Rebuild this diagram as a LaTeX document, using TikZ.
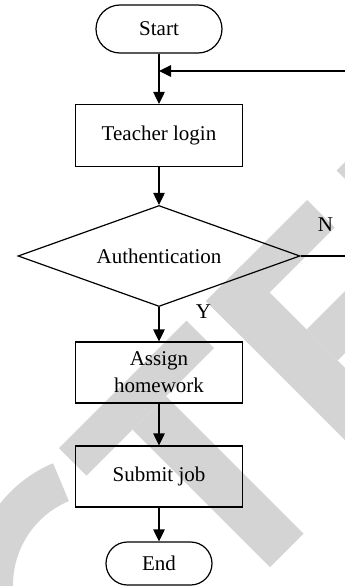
\documentclass[tikz,border=0pt]{standalone}
\usepackage{fontspec}
\setmainfont{Liberation Serif}
\usetikzlibrary{shapes.geometric,arrows.meta}
\definecolor{wm}{RGB}{212,212,212}
\begin{document}
\begin{tikzpicture}[x=1pt,y=-1pt,
  every node/.style={font=\fontsize{21}{27}\selectfont, inner sep=0pt},
  proc/.style={draw, line width=1.2pt, minimum width=167pt, minimum height=61pt, align=center},
  term/.style={draw, line width=1.2pt},
  dec/.style={draw, line width=1.2pt, shape=diamond, aspect=2.8, minimum width=282pt, minimum height=101pt},
  arr/.style={line width=1.2pt, -{Triangle[length=12pt,width=11.5pt]}},
  lbl/.style={}
]
\useasboundingbox (0,0) rectangle (345,586);
\begin{scope}
\clip (0,0) rectangle (345,586);
% watermark
\fill[wm] (206,301) -- (307,200) -- (334.5,227.5) -- (233.5,328.5) -- cycle;
\fill[wm] (206,301) -- (242,265) -- (538.5,561.5) -- (502.5,597.5) -- cycle;
\fill[wm] (306.5,329.5) -- (418,218) -- (449,249) -- (337.5,360.5) -- cycle;
\fill[wm] (59,448) -- (186.5,320.5) -- (214,348) -- (86.5,475.5) -- cycle;
\fill[wm] (166,396) -- (303.5,533.5) -- (270,567) -- (132.5,429.5) -- cycle;
\fill[wm] (336.5,170.5) -- (372.5,134.5) -- (569,331) -- (533,367) -- cycle;
\fill[wm] plot[domain=160:247.3, samples=40] ({104+132*cos(\x)},{585+132*sin(\x)})
  -- plot[domain=247.3:160, samples=40] ({104+91*cos(\x)},{585+91*sin(\x)}) -- cycle;
% flowchart
\node[term, minimum width=126pt, minimum height=48pt, rounded corners=24pt] (start) at (159,29) {Start};
\node[proc, minimum height=62pt] (login) at (159,135.5) {Teacher login};
\node[dec] (auth) at (159,256) {Authentication};
\node[proc] (assign) at (159,372.5) {Assign\\homework};
\node[proc] (submit) at (159,476.5) {Submit job};
\node[term, minimum width=106pt, minimum height=43pt, rounded corners=21.5pt] (end) at (159,563.5) {End};
\node[lbl] (nlab) at (325.5,224.5) {N};
\node[lbl] (ylab) at (203.5,311.5) {Y};
\coordinate (j) at (159,71);
\draw[arr] (start) -- (login);
\draw[arr] (login) -- (auth);
\draw[arr] (auth) -- (assign);
\draw[arr] (assign) -- (submit);
\draw[arr] (submit) -- (end);
\draw[arr] (auth.east) -- ++(60,0) |- (j);
\end{scope}
\end{tikzpicture}
\end{document}
